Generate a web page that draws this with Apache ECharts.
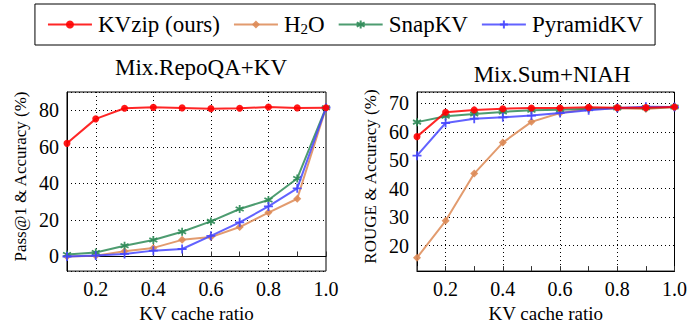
<!DOCTYPE html>
<html><head><meta charset="utf-8">
<script src="https://cdn.jsdelivr.net/npm/echarts@6/dist/echarts.min.js"></script>
<style>html,body{margin:0;padding:0;background:#fff}#c{width:690px;height:328px}</style>
</head><body><div id="c"></div>
<script>
const xCats = ['0.1','0.2','0.3','0.4','0.5','0.6','0.7','0.8','0.9','1.0'];
const seriesNames = ['KVzip (ours)','H2O','SnapKV','PyramidKV'];
// Mix.RepoQA+KV
const kvzipA = [61.9, 75.3, 81.1, 81.6, 81.3, 80.9, 81.1, 81.8, 81.3, 81.4];
const h2oA   = [0.0, 0.4, 2.9, 4.7, 9.1, 10.6, 16.1, 24.0, 31.6, 81.4];
const snapA  = [1.1, 2.2, 5.9, 9.0, 13.5, 19.2, 26.0, 30.9, 42.7, 81.4];
const pyrA   = [0.0, 0.5, 1.4, 3.2, 4.1, 11.3, 18.7, 27.4, 37.3, 81.4];
// Mix.Sum+NIAH
const kvzipB = [58.3, 66.9, 67.7, 68.1, 68.4, 68.4, 68.6, 68.5, 68.5, 68.7];
const h2oB   = [15.7, 28.7, 45.3, 56.2, 63.5, 66.6, 68.0, 68.3, 68.0, 68.7];
const snapB  = [63.4, 65.5, 66.3, 67.0, 67.6, 67.8, 68.1, 68.4, 68.5, 68.7];
const pyrB   = [51.6, 63.1, 64.6, 65.1, 65.7, 66.6, 67.6, 68.4, 68.8, 68.7];
const titles = ['Mix.RepoQA+KV','Mix.Sum+NIAH'];
const yNames = ['Pass@1 & Accuracy (%)','ROUGE & Accuracy (%)'];
const xName = 'KV cache ratio';

const FONT = 'Liberation Serif';
const colors = ['#ff0000','#dd8a55','#2e8b57','#4646ff'];
const symbols = [
  'circle',
  'diamond',
  'path://M0,-1L0,1M-0.87,-0.5L0.87,0.5M-0.87,0.5L0.87,-0.5',
  'path://M-1,0L1,0M0,-1L0,1'
];
const symSizes = [7, 8, 8, 9];

function mkX(i){
  return {
    type:'category', gridIndex:i, data:xCats, boundaryGap:false,
    axisLine:{show:true, lineStyle:{color:'#000', width:1}},
    axisTick:{show:true, inside:true, length:5, interval:0, lineStyle:{color:'#333'}},
    axisLabel:{interval:(idx)=> idx%2===1, color:'#000', fontFamily:FONT, fontSize:20, margin:7, padding:[1,1,1,1]},
    splitLine:{show:true, interval:(idx)=> idx%2===1 && idx<9, lineStyle:{color:'#000', type:[1,3], width:1}},
    name:xName, nameLocation:'middle', nameGap:27,
    nameTextStyle:{color:'#000', fontFamily:FONT, fontSize:19, padding:[1,1,1,1]}
  };
}
function mkY(i, min, max, step, nameGap){
  return {
    type:'value', gridIndex:i, min:min, max:max, splitNumber: Math.round((max-min)/step),
    axisLine:{show:true, lineStyle:{color:'#000', width:1}},
    axisTick:{show:false},
    axisLabel:{color:'#000', fontFamily:FONT, fontSize:20, margin:7, padding:[1,1,1,1],
      formatter:(v)=> (Math.abs(v % step) < 1e-9 ? String(v) : '')},
    splitLine:{show:true, lineStyle:{color:'#000', type:[1,3], width:1}},
    name:yNames[i], nameLocation:'middle', nameGap:nameGap, nameRotate:90,
    nameTextStyle:{color:'#000', fontFamily:FONT, fontSize:17, padding:[0,0,0,10]}
  };
}
function mkSeries(gi, arrs){
  return arrs.map((d, k)=>({
    name:seriesNames[k], type:'line', xAxisIndex:gi, yAxisIndex:gi, data:d,
    symbol:symbols[k], symbolSize:symSizes[k], showSymbol:true,
    lineStyle:{color:colors[k], width:2, opacity:0.85},
    itemStyle:{color:colors[k], borderColor:colors[k], borderWidth:(k>=2?1.8:0), opacity:0.9},
    z: k===0 ? 5 : 2+k*0.1,
    animation:false
  }));
}

function draw(){
  const el = document.getElementById('c');
  const old = echarts.getInstanceByDom(el); if (old) old.dispose();
  const chart = echarts.init(el, null, {renderer:'svg'});
  chart.setOption({
    animation:false,
    title:[
      {text:titles[0], left:196, top:51, textAlign:'center', textStyle:{fontFamily:FONT, fontSize:23, fontWeight:'normal', color:'#000', padding:[1,1,1,1]}},
      {text:titles[1], left:547, top:58, textAlign:'center', textStyle:{fontFamily:FONT, fontSize:23, fontWeight:'normal', color:'#000', padding:[1,1,1,1]}}
    ],
    legend:{
      top:4, left:'center', data:seriesNames,
      borderColor:'#000', borderWidth:1, padding:[9,12,9,12],
      itemWidth:44, itemHeight:10, itemGap:13,
      textStyle:{fontFamily:FONT, fontSize:23, color:'#000', padding:[1,1,1,1],
        rich:{sub:{fontFamily:FONT, fontSize:15, color:'#000', verticalAlign:'bottom', padding:[8,0,0,0]},
              n:{fontFamily:FONT, fontSize:23, color:'#000'}}},
      formatter:(n)=> n==='H2O' ? '{n|H}{sub|2}{n|O}' : '{n|' + n + '}'
    },
    grid:[
      {left:67, right:364, top:92, bottom:54, show:true, borderColor:'#000', borderWidth:1, backgroundColor:'transparent'},
      {left:417, right:15, top:92, bottom:54, show:true, borderColor:'#000', borderWidth:1, backgroundColor:'transparent'}
    ],
    xAxis:[mkX(0), mkX(1)],
    yAxis:[mkY(0, -8, 90, 20, 38), mkY(1, 11, 74, 10, 38)],
    series:[...mkSeries(0,[kvzipA,h2oA,snapA,pyrA]), ...mkSeries(1,[kvzipB,h2oB,snapB,pyrB])]
  });
}
draw();
if (document.fonts && document.fonts.load) {
  document.fonts.load('20px "Liberation Serif"').then(draw, draw);
}
</script></body></html>
